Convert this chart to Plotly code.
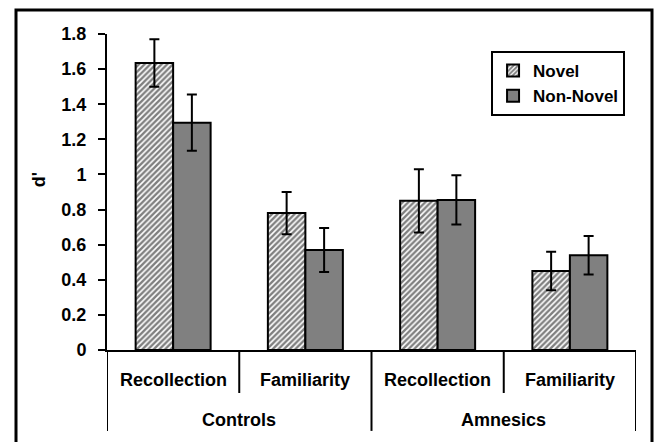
import plotly.graph_objects as go

groups = ["Controls", "Controls", "Amnesics", "Amnesics"]
measures = ["Recollection", "Familiarity", "Recollection", "Familiarity"]
group_names = ["Controls", "Amnesics"]
novel = [1.635, 0.78, 0.85, 0.45]
novel_err = [0.135, 0.12, 0.18, 0.11]
non_novel = [1.295, 0.57, 0.855, 0.54]
non_novel_err = [0.16, 0.125, 0.14, 0.11]
y_ticks = [0, 0.2, 0.4, 0.6, 0.8, 1, 1.2, 1.4, 1.6, 1.8]
y_ticktext = ["0", "0.2", "0.4", "0.6", "0.8", "1", "1.2", "1.4", "1.6", "1.8"]

FONT = "Liberation Sans, Arial, sans-serif"
xpos = list(range(len(measures)))

fig = go.Figure()
fig.add_trace(go.Bar(
    x=xpos, y=novel, name="Novel",
    marker=dict(color="white", line=dict(color="black", width=2),
                pattern=dict(shape="/", fgcolor="black", bgcolor="white", size=4, solidity=0.6)),
    error_y=dict(type="data", array=novel_err, color="black", thickness=2, width=5),
))
fig.add_trace(go.Bar(
    x=xpos, y=non_novel, name="Non-Novel",
    marker=dict(color="#808080", line=dict(color="black", width=2)),
    error_y=dict(type="data", array=non_novel_err, color="black", thickness=2, width=5),
))

annotations = []
for i, m in enumerate(measures):
    annotations.append(dict(x=i, y=-0.095, xref="x", yref="paper", text=m, showarrow=False,
                            font=dict(family=FONT, size=18, color="black", weight="bold"),
                            xanchor="center", yanchor="middle"))
for gi, g in enumerate(group_names):
    annotations.append(dict(x=gi * 2 + 0.5, y=-0.222, xref="x", yref="paper", text=g, showarrow=False,
                            font=dict(family=FONT, size=18, color="black", weight="bold"),
                            xanchor="center", yanchor="middle"))
annotations.append(dict(x=-0.127, y=0.54, xref="paper", yref="paper", text="d'", showarrow=False,
                        textangle=-90, font=dict(family=FONT, size=18, color="black", weight="bold"),
                        xanchor="center", yanchor="middle"))

shapes = []
# dividers
for xv, long in [(-0.5, True), (0.5, False), (1.5, True), (2.5, False), (3.5, True)]:
    shapes.append(dict(type="line", xref="x", yref="paper", x0=xv, x1=xv, y0=0,
                       y1=-0.256 if long else -0.136, line=dict(color="black", width=2)))
# outer frame
shapes.append(dict(type="rect", xref="paper", yref="paper",
                   x0=(16 - 107) / 529, x1=(652 - 107) / 529,
                   y0=(350 - 460) / 316, y1=(350 - 10) / 316,
                   line=dict(color="black", width=3)))

fig.update_layout(
    width=659, height=442,
    margin=dict(l=107, r=23, t=34, b=92),
    paper_bgcolor="white", plot_bgcolor="white",
    barmode="group", bargap=0.433, bargroupgap=0,
    font=dict(family=FONT, size=17, color="black", weight="bold"),
    showlegend=True,
    legend=dict(x=0.726, y=0.946, xanchor="left", yanchor="top",
                bgcolor="white", bordercolor="black", borderwidth=2,
                font=dict(family=FONT, size=17, color="black", weight="bold"),
                itemwidth=30, tracegroupgap=4),
    xaxis=dict(range=[-0.5, 3.5], showticklabels=False, ticks="", showgrid=False, zeroline=False,
               showline=True, linecolor="black", linewidth=2),
    yaxis=dict(range=[0, 1.8], tickvals=y_ticks, ticktext=y_ticktext, ticks="outside", ticklen=7,
               tickwidth=2, tickcolor="black", showgrid=False, zeroline=False, showline=True,
               linecolor="black", linewidth=2, ticklabelstandoff=8,
               tickfont=dict(family=FONT, size=18, color="black", weight="bold")),
    annotations=annotations,
    shapes=shapes,
)

fig.write_html("out.html", config={"displayModeBar": False},
               post_script="document.body.style.margin='0';document.body.style.overflow='hidden';")
